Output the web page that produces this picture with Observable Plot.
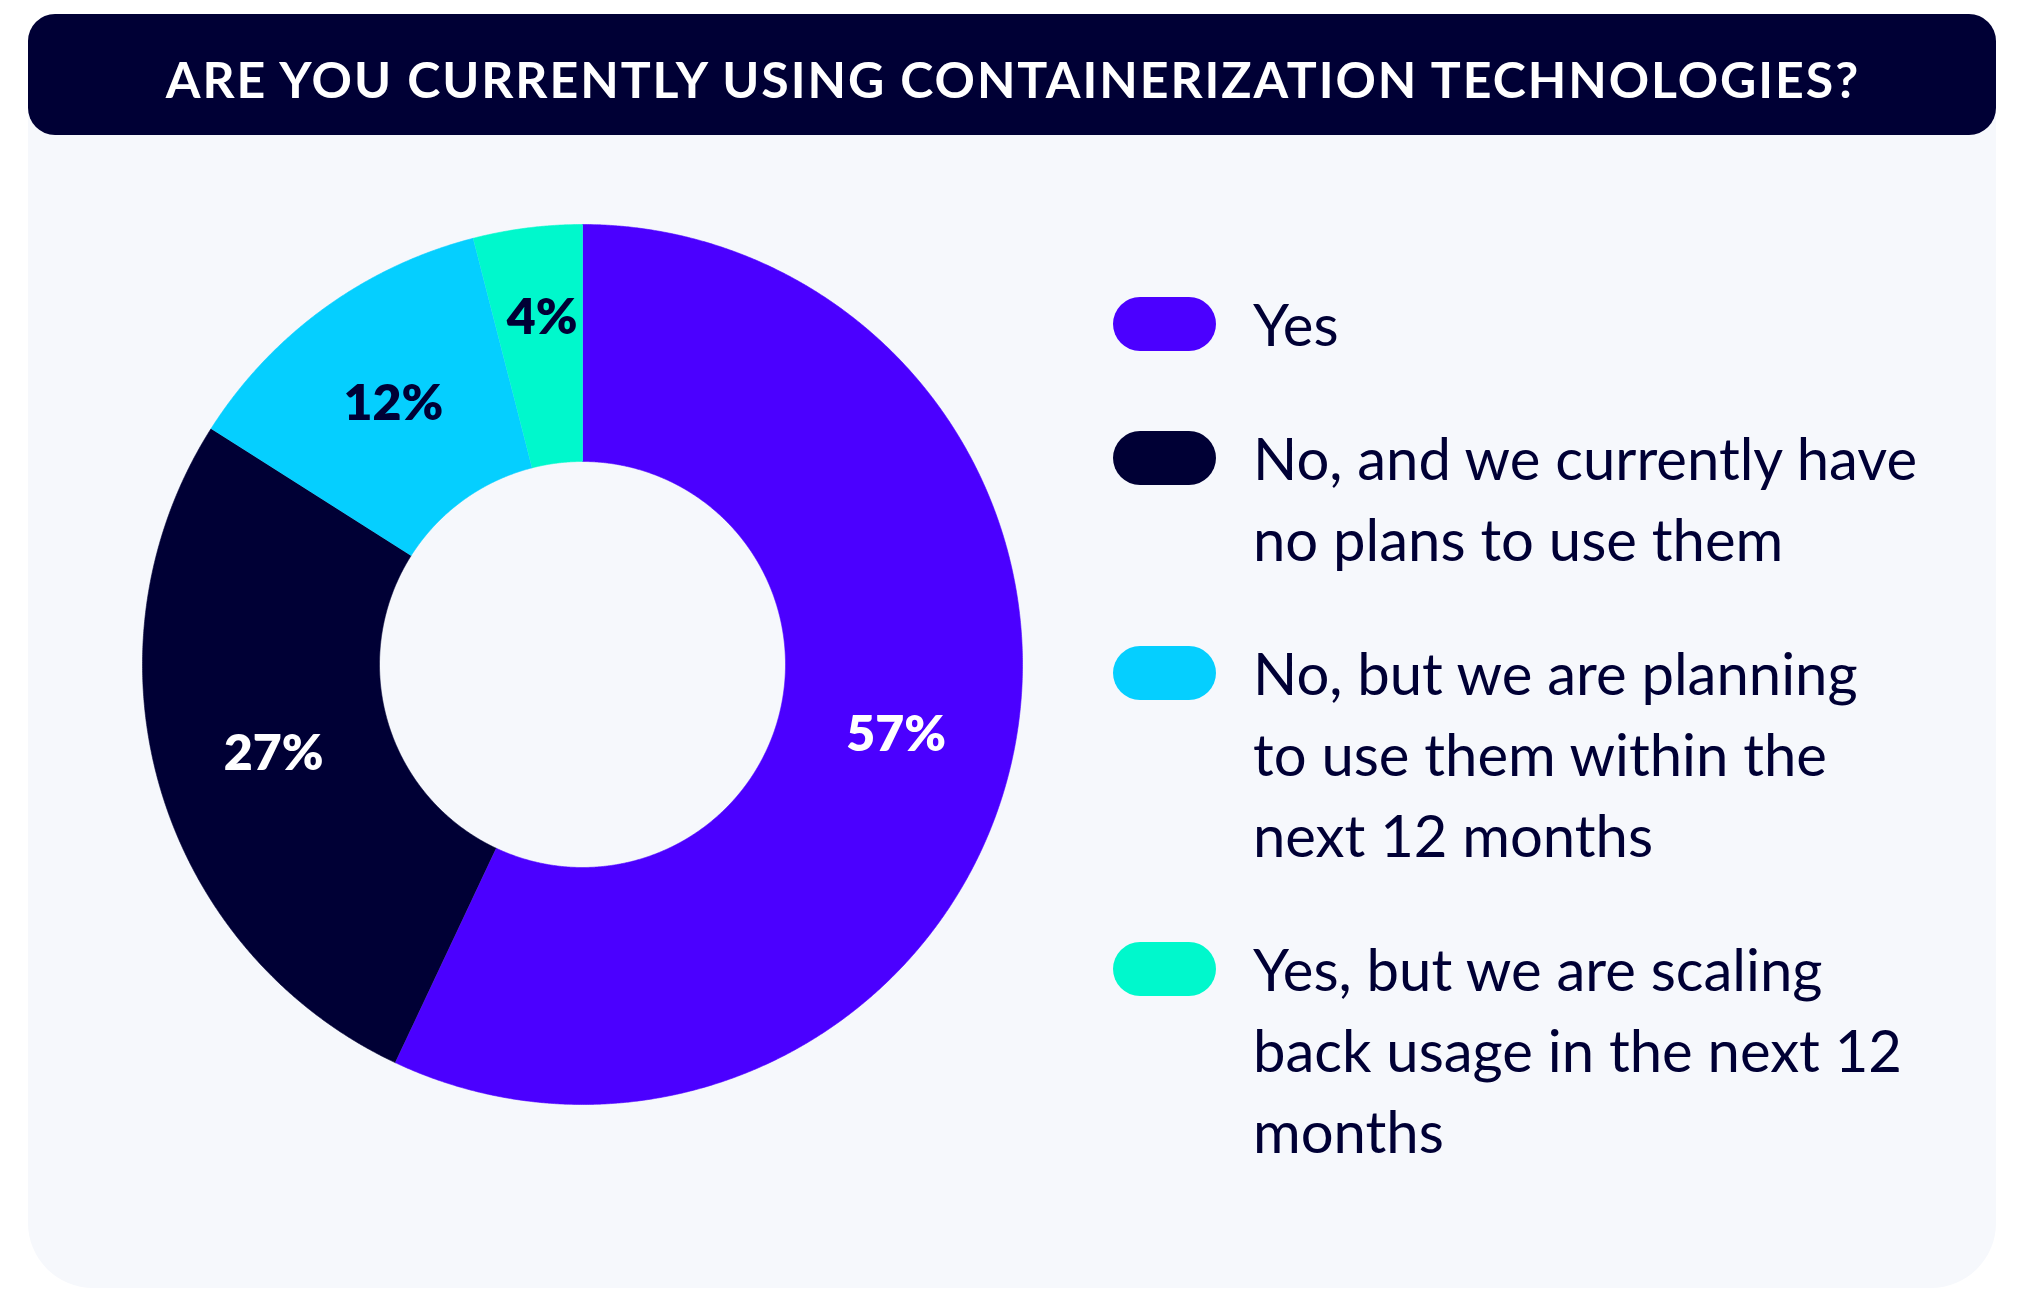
<!DOCTYPE html>
<html><head><meta charset="utf-8">
<script src="https://cdn.jsdelivr.net/npm/d3@7"></script>
<script src="https://cdn.jsdelivr.net/npm/@observablehq/plot@0.6"></script>
<style>
html,body{margin:0;padding:0;background:#ffffff;}
#wrap{position:relative;width:2026px;height:1304px;overflow:hidden;}
#frame,#chart{position:absolute;left:0;top:0;}
</style></head><body>
<div id="wrap"><svg id="frame" width="2026" height="1304"></svg><div id="chart"></div></div>
<script>
// ---- data ----
const title = "ARE YOU CURRENTLY USING CONTAINERIZATION TECHNOLOGIES?";
const categories = [
  "Yes",
  "No, and we currently have no plans to use them",
  "No, but we are planning to use them within the next 12 months",
  "Yes, but we are scaling back usage in the next 12 months"
];
const values = [57, 27, 12, 4];
const colors = ["#4b00ff", "#000035", "#05cfff", "#00f8cc"];
const labelIsDark = [false, false, true, true];

// ---- layout ----
const NAVY = "#000035";
const FONT = "Lato, 'Noto Sans', sans-serif";
const frame = d3.select("#frame");
frame.append("rect").attr("x", 28).attr("y", 14).attr("width", 1968).attr("height", 1274)
  .attr("rx", 65).attr("fill", "#f6f8fc");
frame.append("rect").attr("x", 28).attr("y", 14).attr("width", 1968).attr("height", 121)
  .attr("rx", 27).attr("fill", NAVY);

const ctx = document.createElement("canvas").getContext("2d");
ctx.font = `700 50px Lato`;
const tw = ctx.measureText(title).width;
const ls = (1698 - tw) / (title.length - 1);
frame.append("text").attr("x", 1012 + ls / 2).attr("y", 98).attr("text-anchor", "middle")
  .attr("fill", "#ffffff").style("font", `700 50px ${FONT}`).style("letter-spacing", ls + "px")
  .text(title);

// legend with greedy wrapping
const LFS = 58;
ctx.font = `400 ${LFS}px Lato`;
const k = ctx.measureText("No, and we currently have").width / 647;
const maxW = 650 * k;
function wrap(s) {
  const words = s.split(" "); const lines = []; let cur = "";
  for (const w of words) {
    const t = cur ? cur + " " + w : w;
    if (ctx.measureText(t).width > maxW && cur) { lines.push(cur); cur = w; } else cur = t;
  }
  lines.push(cur); return lines;
}
let base = 346; const LH = 81, GAP = 53;
categories.forEach((c, i) => {
  const lines = wrap(c);
  frame.append("rect").attr("x", 1113).attr("y", base - 22 - 27).attr("width", 103).attr("height", 54)
    .attr("rx", 27).attr("fill", colors[i]);
  const t = frame.append("text").attr("x", 1253).attr("y", base).attr("fill", NAVY)
    .style("font", `400 ${LFS}px ${FONT}`);
  lines.forEach((l, j) => t.append("tspan").attr("x", 1253).attr("y", base + j * LH).text(l));
  base += lines.length * LH + GAP;
});

// ---- donut with Plot ----
const data = categories.map((c, i) => ({category: c, value: values[i], dark: labelIsDark[i]}));
const arcs = d3.pie().sort(null).value(d => d.value)(data);
const r0 = 203 / 440, rm = (1 + r0) / 2;
const pts = [];
arcs.forEach(a => {
  const n = Math.max(4, Math.ceil((a.endAngle - a.startAngle) / 0.004));
  for (let j = 0; j <= n; j++) {
    const t = a.startAngle + (a.endAngle - a.startAngle) * j / n;
    pts.push({category: a.data.category, x: Math.sin(t), y: Math.cos(t)});
  }
  for (let j = n; j >= 0; j--) {
    const t = a.startAngle + (a.endAngle - a.startAngle) * j / n;
    pts.push({category: a.data.category, x: r0 * Math.sin(t), y: r0 * Math.cos(t)});
  }
});
const lab = arcs.map(a => {
  const m = (a.startAngle + a.endAngle) / 2;
  return {text: a.data.value + "%", x: rm * Math.sin(m), y: rm * Math.cos(m), dark: a.data.dark, small: a.data.value < 5};
});
const cx = 582, cy = 664, R = 440, W = 1160, H = 1304;
const labelStyle = {x: "x", y: "y", text: "text", fontSize: 50, fontWeight: 800, fontFamily: FONT};
const chart = Plot.plot({
  width: W, height: H,
  marginLeft: cx - R, marginRight: W - (cx + R), marginTop: cy - R, marginBottom: H - (cy + R),
  x: {domain: [-1, 1], axis: null},
  y: {domain: [-1, 1], axis: null},
  color: {domain: categories, range: colors},
  style: {background: "transparent", overflow: "visible"},
  marks: [
    Plot.line(pts, {x: "x", y: "y", z: "category", fill: "category", stroke: "category", strokeWidth: 0.6}),
    Plot.text(lab.filter(d => !d.dark), {...labelStyle, fill: "#ffffff"}),
    Plot.text(lab.filter(d => d.dark && !d.small), {...labelStyle, fill: NAVY}),
    Plot.text(lab.filter(d => d.dark && d.small), {...labelStyle, fill: NAVY, dy: -28})
  ]
});
document.getElementById("chart").appendChild(chart);
</script>
</body></html>
